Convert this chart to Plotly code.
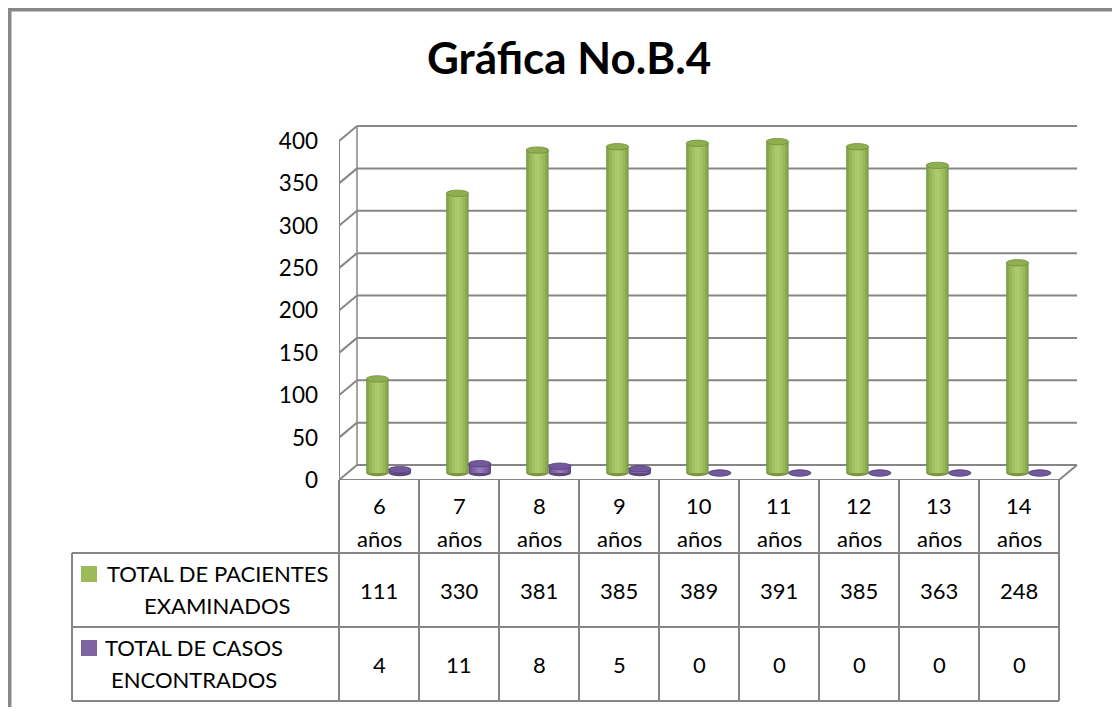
import plotly.graph_objects as go

# ---------------- data ----------------
categories = ["6 años", "7 años", "8 años", "9 años", "10 años", "11 años", "12 años", "13 años", "14 años"]
pacientes = [111, 330, 381, 385, 389, 391, 385, 363, 248]
casos = [4, 11, 8, 5, 0, 0, 0, 0, 0]
series_names = [["TOTAL DE PACIENTES", "EXAMINADOS"], ["TOTAL DE CASOS", "ENCONTRADOS"]]
y_ticks = [0, 50, 100, 150, 200, 250, 300, 350, 400]
title_text = "Gráfica No.B.4"

# ---------------- layout geometry (pixels, page coords) ----------------
BODY = 8                   # default page body margin
W, H = 1120 - 2 * BODY, 715 - 2 * BODY
L_REF, T_REF, PW, PH = 339, 120, 740, 360
L, T = L_REF - BODY, T_REF - BODY
R, B = W - L - PW, H - T - PH
UNIT = 0.8475              # px per value unit
Y_MAX = PH / UNIT
DX = 18 / 80.0             # depth offset in category units
DY = 15 / UNIT             # depth offset in value units
BASE = 7 / UNIT            # bar base (middle of floor)
FONT = "Lato"
GRID = "#868686"

def px(xp):
    return (xp - L_REF) / PW

def py(yp):
    return (T_REF + PH - yp) / PH

green_layers = [(0.28, "#7A963F"), (0.25, "#89A94B"), (0.20, "#97B858"), (0.13, "#A3C464"), (0.06, "#ACCB6F")]
purple_layers = [(0.28, "#5E4879"), (0.25, "#6C5590"), (0.20, "#7B61A0"), (0.13, "#8A70AE"), (0.06, "#957DB8")]
G_C, P_C = -0.02, 0.26

fig = go.Figure()
for vals, layers, c in [(pacientes, green_layers, G_C), (casos, purple_layers, P_C)]:
    for w, col in layers:
        fig.add_trace(go.Bar(x=categories, y=vals, base=BASE, width=w, offset=c - w / 2,
                             marker=dict(color=col, line=dict(width=0)), showlegend=False,
                             hoverinfo="skip"))

shapes = []
# back wall gridlines + left wall
for v in y_ticks:
    shapes.append(dict(type="line", xref="x", yref="y", x0=-0.5 + DX, x1=8.5 + DX, y0=v + DY, y1=v + DY,
                       line=dict(color=GRID, width=2), layer="below"))
    shapes.append(dict(type="line", xref="x", yref="y", x0=-0.5, x1=-0.5 + DX, y0=v, y1=v + DY,
                       line=dict(color=GRID, width=2), layer="below"))
shapes.append(dict(type="line", xref="x", yref="y", x0=-0.5, x1=-0.5, y0=0, y1=y_ticks[-1],
                   line=dict(color=GRID, width=2), layer="below"))
shapes.append(dict(type="line", xref="x", yref="y", x0=-0.5 + DX, x1=-0.5 + DX, y0=DY, y1=y_ticks[-1] + DY,
                   line=dict(color=GRID, width=1.5), layer="below"))
# floor front edge and right diagonal
shapes.append(dict(type="line", xref="x", yref="y", x0=-0.5, x1=8.5, y0=0, y1=0,
                   line=dict(color=GRID, width=2), layer="below"))
shapes.append(dict(type="line", xref="x", yref="y", x0=8.5, x1=8.5 + DX, y0=0, y1=DY,
                   line=dict(color=GRID, width=2), layer="below"))

# cylinder ends
RY = 3.2 / UNIT
for i in range(len(categories)):
    for vals, c, bot, top, edge in [(pacientes, G_C, "#7A963F", "#8EAF4F", "#728D3A"),
                                    (casos, P_C, "#5E4879", "#7158A0", "#57426F")]:
        v = vals[i]
        shapes.append(dict(type="circle", xref="x", yref="y", x0=i + c - 0.14, x1=i + c + 0.14,
                           y0=BASE - RY, y1=BASE + RY, fillcolor=bot, line=dict(width=0), layer="below"))
        shapes.append(dict(type="circle", xref="x", yref="y", x0=i + c - 0.14, x1=i + c + 0.14,
                           y0=BASE + v - RY, y1=BASE + v + RY, fillcolor=top,
                           line=dict(color=edge, width=0.8), layer="above"))

# ---------------- data table ----------------
TABLE_TOP, ROW1, ROW2, ROW3 = 480, 553, 627, 701
COL0 = 72
for k in range(len(categories) + 1):
    xk = L_REF + 80 * k
    shapes.append(dict(type="line", xref="paper", yref="paper", x0=px(xk), x1=px(xk),
                       y0=py(TABLE_TOP), y1=py(ROW3), line=dict(color=GRID, width=2)))
for yy in (ROW1, ROW2, ROW3):
    shapes.append(dict(type="line", xref="paper", yref="paper", x0=px(COL0), x1=px(L_REF + 80 * len(categories)),
                       y0=py(yy), y1=py(yy), line=dict(color=GRID, width=2)))
shapes.append(dict(type="line", xref="paper", yref="paper", x0=px(COL0), x1=px(COL0),
                   y0=py(ROW1), y1=py(ROW3), line=dict(color=GRID, width=2)))

# legend keys
for ytop, col in [(566, "#9BBB59"), (640, "#8064A2")]:
    shapes.append(dict(type="rect", xref="paper", yref="paper", x0=px(81), x1=px(97),
                       y0=py(ytop), y1=py(ytop + 16), fillcolor=col, line=dict(width=0)))

# outer chart border (top and left edges only are visible)
shapes.append(dict(type="line", xref="paper", yref="paper", x0=px(8), x1=px(1120), y0=py(9.7), y1=py(9.7),
                   line=dict(color="#888888", width=3.6)))
shapes.append(dict(type="line", xref="paper", yref="paper", x0=px(9.7), x1=px(9.7), y0=py(8), y1=py(715),
                   line=dict(color="#888888", width=3.6)))

annotations = []
tf = dict(family=FONT, size=22, color="#000000")
for i, cat in enumerate(categories):
    xc = L_REF + 40 + 80 * i
    num, word = cat.split(" ")
    annotations.append(dict(x=px(xc), y=py(505), text=num, showarrow=False, xref="paper", yref="paper",
                            xanchor="center", yanchor="middle", font=tf))
    annotations.append(dict(x=px(xc), y=py(538), text=word, showarrow=False, xref="paper", yref="paper",
                            xanchor="center", yanchor="middle", font=tf))
    annotations.append(dict(x=px(xc), y=py(590), text=str(pacientes[i]), showarrow=False, xref="paper",
                            yref="paper", xanchor="center", yanchor="middle", font=tf))
    annotations.append(dict(x=px(xc), y=py(664), text=str(casos[i]), showarrow=False, xref="paper",
                            yref="paper", xanchor="center", yanchor="middle", font=tf))

for (l1, l2), (y1, y2), xc in [(series_names[0], (573, 605), 217), (series_names[1], (647, 679), 194)]:
    annotations.append(dict(x=px(xc), y=py(y1), text=l1, showarrow=False, xref="paper", yref="paper",
                            xanchor="center", yanchor="middle", font=tf))
    annotations.append(dict(x=px(xc), y=py(y2), text=l2, showarrow=False, xref="paper", yref="paper",
                            xanchor="center", yanchor="middle", font=tf))

annotations.append(dict(x=px(569), y=py(57), text="<b>" + title_text + "</b>", showarrow=False,
                        xref="paper", yref="paper", xanchor="center", yanchor="middle",
                        font=dict(family=FONT, size=44, color="#000000")))

fig.update_layout(
    width=W, height=H,
    margin=dict(l=L, r=R, t=T, b=B, pad=0),
    paper_bgcolor="white", plot_bgcolor="white",
    barmode="overlay", showlegend=False,
    shapes=shapes, annotations=annotations,
    xaxis=dict(type="category", range=[-0.5, 8.5 + 0.25], showticklabels=False, showgrid=False,
               zeroline=False, showline=False, ticks="", fixedrange=True),
    yaxis=dict(range=[0, Y_MAX], tickvals=y_ticks, showgrid=False, zeroline=False, showline=False,
               ticks="", ticklabelstandoff=20, tickfont=dict(family=FONT, size=22.5, color="#000000"),
               fixedrange=True),
)

fig.write_html("out.html")
